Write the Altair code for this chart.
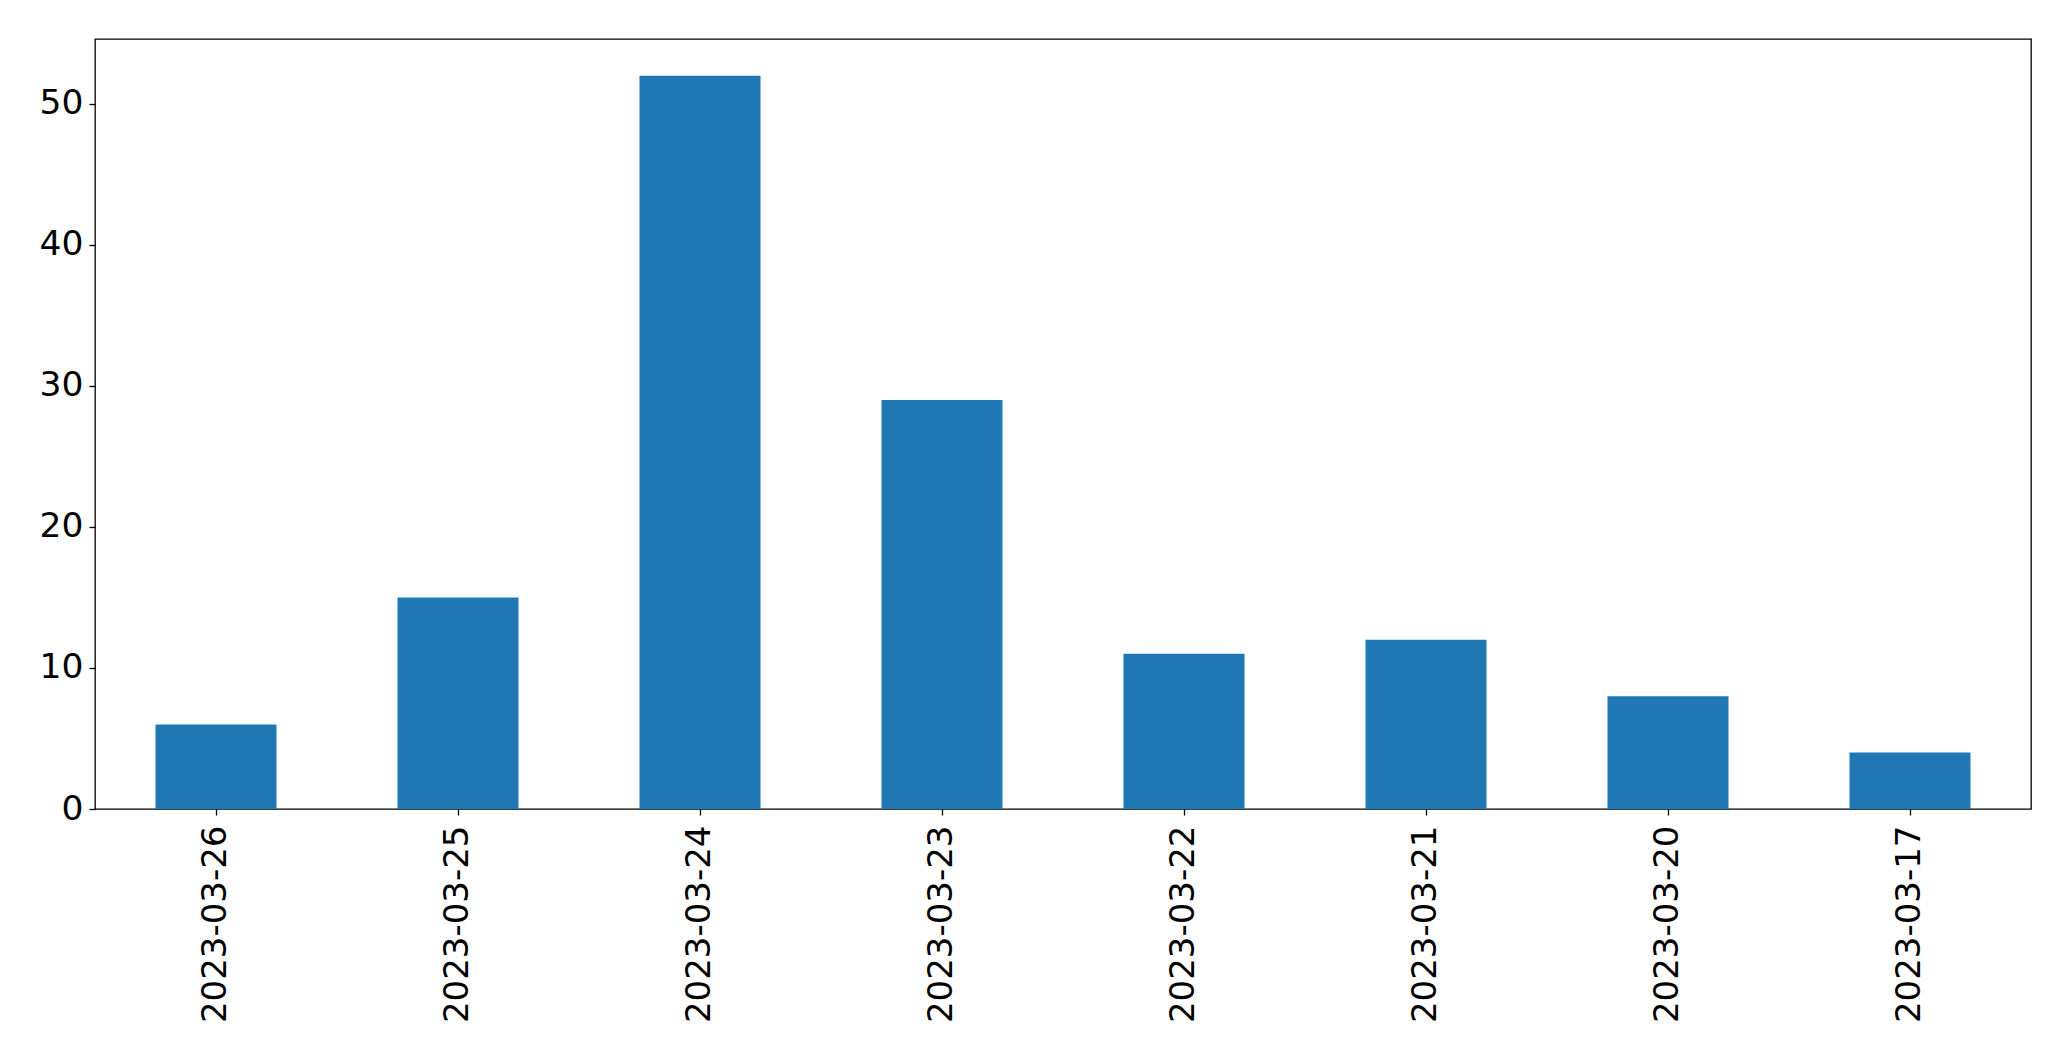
import altair as alt
import pandas as pd

dates = ["2023-03-26", "2023-03-25", "2023-03-24", "2023-03-23",
         "2023-03-22", "2023-03-21", "2023-03-20", "2023-03-17"]
counts = [6, 15, 52, 29, 11, 12, 8, 4]
y_ticks = [0, 10, 20, 30, 40, 50]

df = pd.DataFrame({"date": dates, "count": counts})

chart = alt.Chart(df).mark_bar(color="#1f77b4").encode(
    x=alt.X("date:N", sort=dates, title=None,
            scale=alt.Scale(paddingInner=0.5, paddingOuter=0.25),
            axis=alt.Axis(labelAngle=270, labelFontSize=34, labelFont="DejaVu Sans",
                          labelColor="black", tickColor="black", tickSize=6,
                          tickWidth=1.3, labelPadding=10, labelLimit=0, domain=False)),
    y=alt.Y("count:Q", title=None,
            scale=alt.Scale(domain=[0, 54.6], nice=False, zero=True),
            axis=alt.Axis(values=y_ticks, labelFontSize=34.5, labelFont="DejaVu Sans",
                          labelColor="black", tickColor="black", tickSize=6,
                          tickWidth=1.3, labelPadding=6, grid=False, domain=False)),
).properties(
    width=1936, height=770,
    autosize=alt.AutoSizeParams(type="none"),
    padding={"left": 87, "top": 31, "right": 20, "bottom": 230},
).configure_view(stroke="black", strokeWidth=1.3)

chart.save("out.html", embed_options={"renderer": "svg", "actions": False})
